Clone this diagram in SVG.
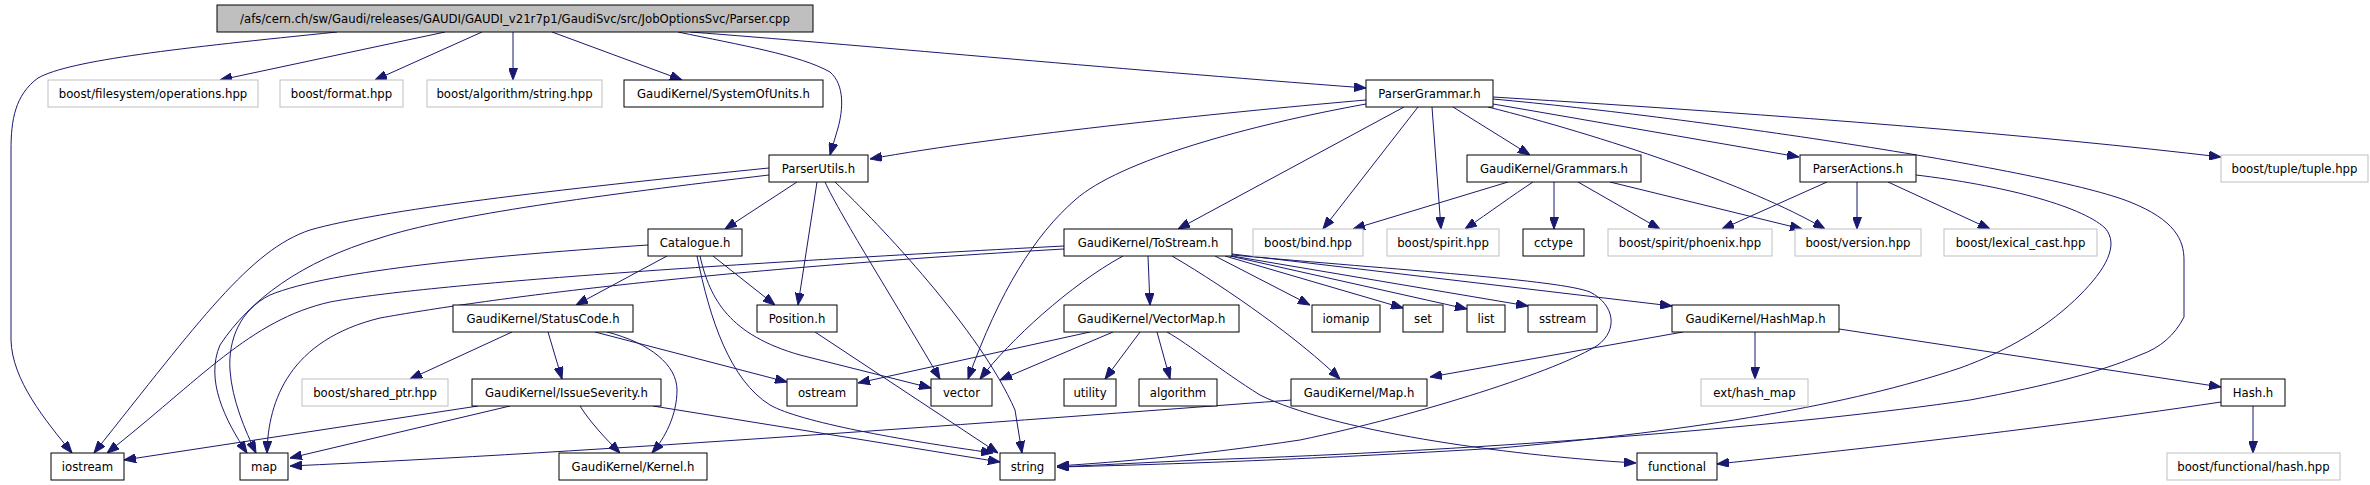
<svg xmlns="http://www.w3.org/2000/svg" width="2370" height="485" viewBox="0 0 2370 485">
<style>
.n rect{fill:#fff;stroke:#000;stroke-width:1}
.g rect{fill:#fff;stroke:#bfbfbf;stroke-width:1}
.r rect{fill:#bfbfbf;stroke:#000;stroke-width:1}
text{font-family:"DejaVu Sans","Liberation Sans",sans-serif;font-size:11.7px;text-anchor:middle;fill:#000}
#edges path{fill:none;stroke:#191970;stroke-width:1;marker-end:url(#a)}
</style>
<defs>
<marker id="a" markerWidth="12" markerHeight="9" refX="12" refY="4.5" orient="auto" markerUnits="userSpaceOnUse"><path d="M0,0 L12,4.5 L0,9 z" fill="#191970" stroke="#191970" stroke-width="1"/></marker>
</defs>
<rect width="2370" height="485" fill="#fff"/>
<g id="edges">
<path d="M337,32 C180,48 70,60 38,78 C15,95 11,120 11,150 L11,340 C12,380 45,420 72,453"/>
<path d="M445,32 L220,80"/>
<path d="M482,32 L375,80"/>
<path d="M513,32 L513,80"/>
<path d="M552,32 L682,80"/>
<path d="M678,32 C740,45 800,55 830,72 C845,85 843,110 838,128 L830,155"/>
<path d="M690,32 C850,44 1100,68 1366,88"/>
<path d="M1366,100 C1250,110 1000,135 870,159"/>
<path d="M1366,104 C1250,125 1120,160 1075,200 C1035,235 1000,290 968,379"/>
<path d="M1404,107 L1178,229"/>
<path d="M1418,107 L1323,229"/>
<path d="M1432,107 L1441,229"/>
<path d="M1453,107 L1530,155"/>
<path d="M1493,104 L1799,157"/>
<path d="M1488,107 C1600,135 1750,185 1825,229"/>
<path d="M1493,97 Q1950,125 2221,157"/>
<path d="M1493,99 C1700,118 2050,170 2130,202 C2175,220 2184,240 2184,260 L2184,317 C2175,335 2160,348 2140,355 C2100,372 2050,385 1970,400 C1800,425 1500,450 1200,460 L1057,467"/>
<path d="M1916,175 C2000,185 2080,205 2105,228 C2120,245 2105,270 2080,295 C2050,325 2010,350 1960,368 C1850,405 1700,430 1500,448 C1300,460 1150,465 1057,467"/>
<path d="M769,175 C600,195 450,215 380,238 C300,262 250,300 220,345 C205,380 225,420 247,453"/>
<path d="M769,168 C550,190 380,210 310,230 C250,250 200,320 94,453"/>
<path d="M797,182 L725,229"/>
<path d="M817,182 L798,305"/>
<path d="M825,182 C840,215 900,310 940,379"/>
<path d="M835,182 C880,225 980,330 1015,410 L1022,453"/>
<path d="M648,245 C500,255 330,270 270,295 C240,310 228,340 230,370 C232,400 245,430 256,453"/>
<path d="M667,256 L576,305"/>
<path d="M713,256 L775,305"/>
<path d="M700,256 C710,300 730,335 800,355 L931,388"/>
<path d="M697,256 C710,320 730,380 770,405 C800,422 900,440 993,453"/>
<path d="M1064,246 C700,265 420,285 330,302 C250,320 200,380 107,453"/>
<path d="M1064,249 C700,270 480,300 380,318 C290,340 268,400 267,453"/>
<path d="M1123,256 C1070,285 1010,340 980,379"/>
<path d="M1148,256 L1150,305"/>
<path d="M1172,256 C1230,290 1300,340 1340,379"/>
<path d="M1215,256 L1310,305"/>
<path d="M1225,256 L1403,308"/>
<path d="M1230,256 L1467,309"/>
<path d="M1232,256 L1528,306"/>
<path d="M1232,254 L1672,306"/>
<path d="M1232,255 C1400,270 1560,280 1590,292 C1615,305 1618,330 1598,345 C1560,370 1420,415 1300,440 C1200,455 1120,462 1057,466"/>
<path d="M1508,182 L1353,229"/>
<path d="M1533,182 C1513,195 1490,212 1465,229"/>
<path d="M1554,182 L1554,229"/>
<path d="M1578,182 L1660,229"/>
<path d="M1610,182 L1802,229"/>
<path d="M1827,182 L1722,229"/>
<path d="M1857,182 L1857,229"/>
<path d="M1888,182 L1990,229"/>
<path d="M512,332 L410,379"/>
<path d="M548,332 L562,379"/>
<path d="M595,332 L787,382"/>
<path d="M607,332 C650,343 677,365 677,390 C677,415 665,438 652,453"/>
<path d="M815,332 L998,453"/>
<path d="M1090,332 L858,383"/>
<path d="M1113,332 L1000,380"/>
<path d="M1140,332 L1105,379"/>
<path d="M1157,332 L1170,379"/>
<path d="M1167,332 C1190,345 1220,370 1260,395 C1330,430 1500,455 1636,463"/>
<path d="M1683,332 L1430,377"/>
<path d="M1755,332 L1755,379"/>
<path d="M1839,329 L2221,387"/>
<path d="M478,406 L124,460"/>
<path d="M510,406 L290,458"/>
<path d="M580,406 C590,422 605,438 620,453"/>
<path d="M653,406 L1000,462"/>
<path d="M1292,400 C1000,422 600,452 290,466"/>
<path d="M2253,406 L2253,453"/>
<path d="M2221,402 C2000,435 1800,455 1717,464"/>
</g>
<g id="root" class="r"><rect x="217" y="5" width="596" height="27"/><text x="515" y="23">/afs/cern.ch/sw/Gaudi/releases/GAUDI/GAUDI_v21r7p1/GaudiSvc/src/JobOptionsSvc/Parser.cpp</text></g>
<g id="fs" class="g"><rect x="48" y="80" width="210" height="27"/><text x="153" y="98">boost/filesystem/operations.hpp</text></g>
<g id="fmt" class="g"><rect x="280" y="80" width="123" height="27"/><text x="341.5" y="98">boost/format.hpp</text></g>
<g id="alg" class="g"><rect x="427" y="80" width="175" height="27"/><text x="514.5" y="98">boost/algorithm/string.hpp</text></g>
<g id="units" class="n"><rect x="624" y="80" width="199" height="27"/><text x="723.5" y="98">GaudiKernel/SystemOfUnits.h</text></g>
<g id="pg" class="n"><rect x="1366" y="80" width="127" height="27"/><text x="1429.5" y="98">ParserGrammar.h</text></g>
<g id="pu" class="n"><rect x="769" y="155" width="99" height="27"/><text x="818.5" y="173">ParserUtils.h</text></g>
<g id="gram" class="n"><rect x="1467" y="155" width="174" height="27"/><text x="1554" y="173">GaudiKernel/Grammars.h</text></g>
<g id="pa" class="n"><rect x="1800" y="155" width="116" height="27"/><text x="1858" y="173">ParserActions.h</text></g>
<g id="tuple" class="g"><rect x="2221" y="155" width="147" height="27"/><text x="2294.5" y="173">boost/tuple/tuple.hpp</text></g>
<g id="cat" class="n"><rect x="648" y="229" width="94" height="27"/><text x="695" y="247">Catalogue.h</text></g>
<g id="ts" class="n"><rect x="1064" y="229" width="168" height="27"/><text x="1148" y="247">GaudiKernel/ToStream.h</text></g>
<g id="bind" class="g"><rect x="1253" y="229" width="110" height="27"/><text x="1308" y="247">boost/bind.hpp</text></g>
<g id="spirit" class="g"><rect x="1387" y="229" width="112" height="27"/><text x="1443" y="247">boost/spirit.hpp</text></g>
<g id="cctype" class="n"><rect x="1523" y="229" width="61" height="27"/><text x="1553.5" y="247">cctype</text></g>
<g id="phoenix" class="g"><rect x="1608" y="229" width="164" height="27"/><text x="1690" y="247">boost/spirit/phoenix.hpp</text></g>
<g id="version" class="g"><rect x="1795" y="229" width="126" height="27"/><text x="1858" y="247">boost/version.hpp</text></g>
<g id="lexical" class="g"><rect x="1944" y="229" width="153" height="27"/><text x="2020.5" y="247">boost/lexical_cast.hpp</text></g>
<g id="sc" class="n"><rect x="453" y="305" width="180" height="27"/><text x="543" y="323">GaudiKernel/StatusCode.h</text></g>
<g id="pos" class="n"><rect x="757" y="305" width="80" height="27"/><text x="797" y="323">Position.h</text></g>
<g id="vm" class="n"><rect x="1064" y="305" width="175" height="27"/><text x="1151.5" y="323">GaudiKernel/VectorMap.h</text></g>
<g id="iomanip" class="n"><rect x="1312" y="305" width="68" height="27"/><text x="1346" y="323">iomanip</text></g>
<g id="set" class="n"><rect x="1403" y="305" width="40" height="27"/><text x="1423" y="323">set</text></g>
<g id="list" class="n"><rect x="1467" y="305" width="38" height="27"/><text x="1486" y="323">list</text></g>
<g id="sstream" class="n"><rect x="1528" y="305" width="69" height="27"/><text x="1562.5" y="323">sstream</text></g>
<g id="hashmap" class="n"><rect x="1672" y="305" width="167" height="27"/><text x="1755.5" y="323">GaudiKernel/HashMap.h</text></g>
<g id="shared" class="g"><rect x="302" y="379" width="146" height="27"/><text x="375" y="397">boost/shared_ptr.hpp</text></g>
<g id="is" class="n"><rect x="472" y="379" width="189" height="27"/><text x="566.5" y="397">GaudiKernel/IssueSeverity.h</text></g>
<g id="ostream" class="n"><rect x="787" y="379" width="70" height="27"/><text x="822" y="397">ostream</text></g>
<g id="vector" class="n"><rect x="931" y="379" width="61" height="27"/><text x="961.5" y="397">vector</text></g>
<g id="utility" class="n"><rect x="1064" y="379" width="52" height="27"/><text x="1090" y="397">utility</text></g>
<g id="algorithm" class="n"><rect x="1139" y="379" width="78" height="27"/><text x="1178" y="397">algorithm</text></g>
<g id="maph" class="n"><rect x="1291" y="379" width="136" height="27"/><text x="1359" y="397">GaudiKernel/Map.h</text></g>
<g id="hash_map" class="g"><rect x="1701" y="379" width="107" height="27"/><text x="1754.5" y="397">ext/hash_map</text></g>
<g id="hash" class="n"><rect x="2221" y="379" width="64" height="27"/><text x="2253" y="397">Hash.h</text></g>
<g id="iostream" class="n"><rect x="51" y="453" width="73" height="27"/><text x="87.5" y="471">iostream</text></g>
<g id="map" class="n"><rect x="240" y="453" width="48" height="27"/><text x="264" y="471">map</text></g>
<g id="kernel" class="n"><rect x="559" y="453" width="148" height="27"/><text x="633" y="471">GaudiKernel/Kernel.h</text></g>
<g id="string" class="n"><rect x="1000" y="453" width="55" height="27"/><text x="1027.5" y="471">string</text></g>
<g id="functional" class="n"><rect x="1637" y="453" width="80" height="27"/><text x="1677" y="471">functional</text></g>
<g id="bfhash" class="g"><rect x="2167" y="453" width="173" height="27"/><text x="2253.5" y="471">boost/functional/hash.hpp</text></g>
</svg>
